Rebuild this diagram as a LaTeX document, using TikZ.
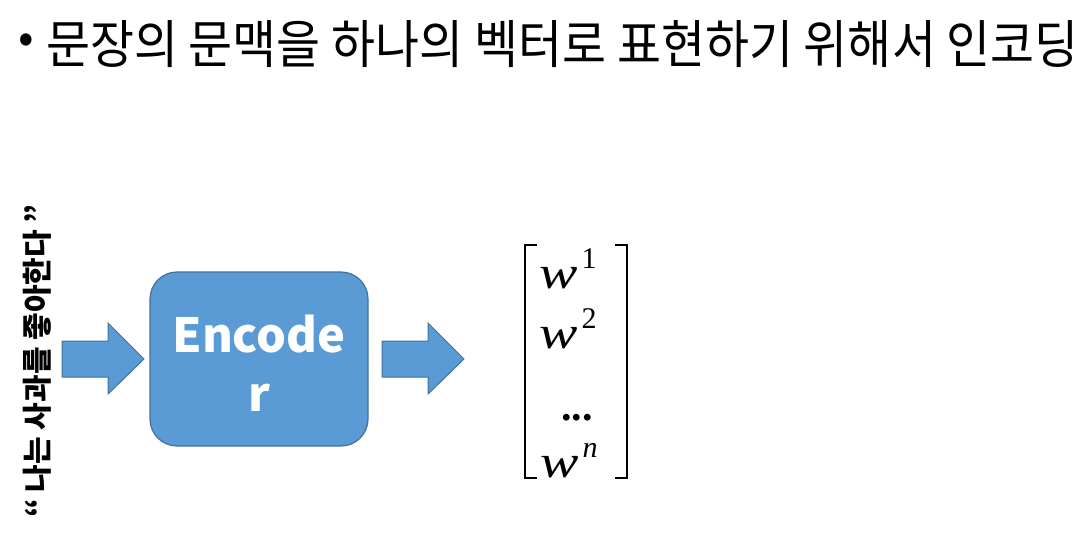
\documentclass[tikz,border=0pt]{standalone}
\usepackage{fontspec}
\setmainfont{Noto Sans CJK KR}
\newfontfamily\titlefont{Noto Sans CJK KR}[FakeStretch=0.92]
\newfontfamily\wfont{Liberation Serif}[FakeStretch=1.25]
\newfontfamily\supfont{Liberation Serif}
\usetikzlibrary{calc}
\definecolor{boxfill}{HTML}{5B9BD5}
\definecolor{boxline}{HTML}{41719C}
\tikzset{
  blockarrow/.style={fill=boxfill, draw=boxline, line width=1pt, line join=miter},
  encbox/.style={fill=boxfill, draw=boxline, line width=1.2pt, rounded corners=27pt},
  bracketline/.style={line width=2.6pt, line cap=butt, line join=miter},
  entry/.style={anchor=base west, inner sep=0pt, font=\wfont\itshape\fontsize{46}{50}\selectfont},
}
\newcommand{\supx}[1]{\hspace{4pt}\raisebox{20pt}{\supfont\fontsize{30}{33}\selectfont #1}}
\begin{document}
\begin{tikzpicture}[x=1pt,y=-1pt]
\useasboundingbox (0,0) rectangle (1082,551);
% title
\node[inner sep=0pt, font=\fontsize{46}{50}\selectfont] (bullet) at (26,44) {•};
\node[anchor=base west, inner sep=0pt, font=\titlefont\fontsize{52}{58}\selectfont] (title) at (46,64) {문장의 문맥을 하나의 벡터로 표현하기 위해서 인코딩};
% vertical sentence
\node[rotate=90, inner sep=0pt, font=\bfseries\fontsize{30}{33}\selectfont] (sent) at (37,361) {“ 나는 사과를 좋아한다 ”};
% input arrow
\draw[blockarrow] (62,341) -- (108,341) -- (108,323) -- (144,359) -- (108,394) -- (108,377) -- (62,377) -- cycle;
% encoder box
\draw[encbox] (150,272) rectangle (368,446);
\node[text=white, align=center, inner sep=0pt, font=\bfseries\fontsize{47}{59}\selectfont] (enc) at (259,363) {Encode\\r};
% output arrow
\draw[blockarrow] (382,341) -- (428,341) -- (428,323) -- (464,359) -- (428,394) -- (428,377) -- (382,377) -- cycle;
% matrix brackets
\draw[bracketline] (537,245) -- (525,245) -- (525,478) -- (537,478);
\draw[bracketline] (615,245) -- (627,245) -- (627,478) -- (615,478);
% entries
\node[entry] (w1) at (539,288) {w\supx{\upshape 1}};
\node[entry] (w2) at (539,348) {w\supx{\upshape 2}};
\node[anchor=base, inner sep=0pt, font=\supfont\bfseries\fontsize{42}{46}\selectfont] (dots) at (577,420) {...};
\node[entry] (wn) at (540,477) {w\supx{\itshape n}};
\end{tikzpicture}
\end{document}
